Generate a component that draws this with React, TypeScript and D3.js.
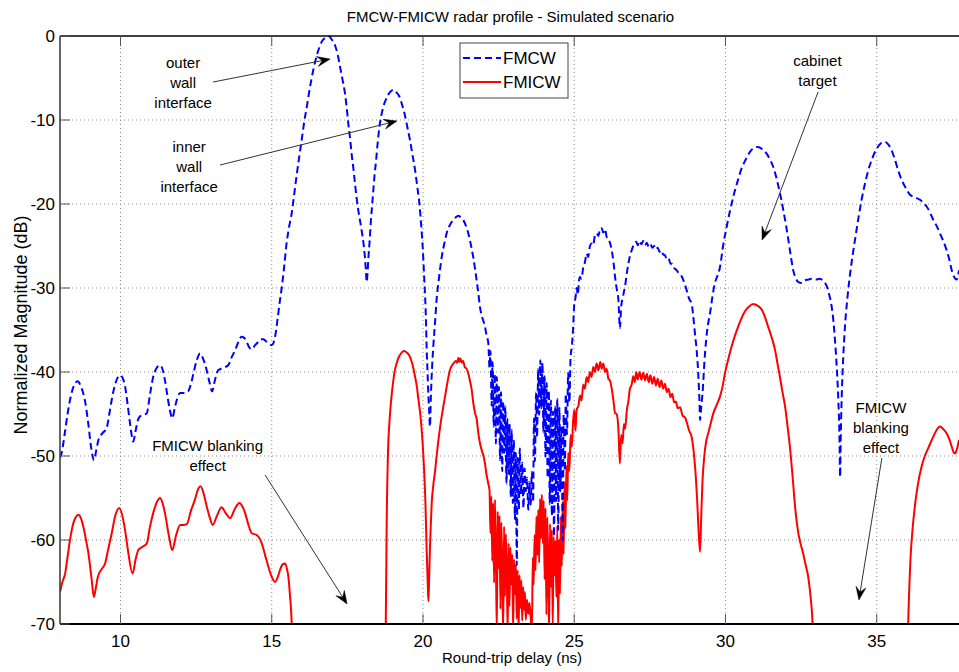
import React from 'react';
import * as d3 from 'd3';

const W = 959;
const H = 672;
const M = { left: 60, right: 959, top: 36, bottom: 624 };

const titleText = 'FMCW-FMICW radar profile - Simulated scenario';
const xLabel = 'Round-trip delay (ns)';
const yLabel = 'Normalized Magnitude (dB)';
const xDomain: [number, number] = [8, 37.72];
const yDomain: [number, number] = [-70, 0];
const xTicks = [10, 15, 20, 25, 30, 35];
const yTicks = [0, -10, -20, -30, -40, -50, -60, -70];
const seriesNames = ['FMCW', 'FMICW'];

// FMCW (blue dashed): [delay ns, magnitude dB]
const fmcw: [number, number][] = [
  [8.0, -50.2], [8.05, -49.7], [8.15, -47.5], [8.25, -45], [8.35, -43], [8.45, -41.7], [8.58, -41.1], [8.7, -41.8],
  [8.83, -43.5], [8.93, -46], [9.03, -49], [9.12, -50.5], [9.2, -49.3], [9.27, -48.1], [9.4, -47.3], [9.54, -46.7],
  [9.63, -45], [9.71, -43.3], [9.82, -41.5], [9.92, -40.6], [10.0, -40.4], [10.08, -40.8], [10.15, -41.7], [10.24, -44],
  [10.33, -46.5], [10.42, -48.3], [10.5, -47], [10.57, -45.8], [10.64, -45.3], [10.75, -45.1], [10.87, -44.9], [10.97, -42.8],
  [11.08, -40.6], [11.2, -39.5], [11.31, -39.2], [11.4, -39.8], [11.47, -41], [11.55, -42.8], [11.63, -44.5], [11.71, -45.5],
  [11.8, -44.2], [11.88, -43.1], [11.97, -42.5], [12.1, -42.5], [12.24, -42.3], [12.33, -41.4], [12.41, -40.2], [12.52, -38.6],
  [12.63, -37.8], [12.74, -38.5], [12.85, -39.8], [12.94, -41.2], [13.03, -42.3], [13.12, -41], [13.23, -39.8], [13.4, -39.5],
  [13.56, -39.2], [13.68, -38.2], [13.79, -37.4], [13.9, -36.4], [14.0, -35.8], [14.08, -35.9], [14.17, -36.4], [14.26, -37.1],
  [14.34, -37.3], [14.45, -36.8], [14.56, -36.4], [14.64, -36.1], [14.72, -36.1], [14.86, -36.5], [15.0, -36.8], [15.06, -36.5],
  [15.12, -35.6], [15.2, -33.5], [15.27, -31.5], [15.33, -30], [15.41, -27.5], [15.49, -24.7], [15.57, -22.8], [15.66, -21.1],
  [15.74, -18.9], [15.82, -16.7], [15.9, -14.6], [15.99, -12.4], [16.07, -10.3], [16.16, -8.4], [16.24, -6.6], [16.32, -5.0],
  [16.4, -3.6], [16.49, -2.3], [16.57, -1.4], [16.65, -0.7], [16.76, -0.2], [16.87, 0], [16.98, -0.4], [17.09, -1.1],
  [17.18, -2.2], [17.26, -3.7], [17.34, -5.2], [17.42, -6.8], [17.48, -8.6], [17.53, -10.4], [17.59, -12.2], [17.64, -14.0],
  [17.7, -15.8], [17.75, -17.5], [17.8, -19.1], [17.86, -20.7], [17.92, -22], [17.97, -23.1], [18.03, -24.6], [18.08, -26.3],
  [18.11, -27.8], [18.14, -29.3], [18.17, -28], [18.19, -26.7], [18.24, -24.2], [18.28, -21.9], [18.32, -20.1], [18.36, -18.3],
  [18.4, -16.5], [18.45, -14.8], [18.5, -12.8], [18.56, -10.8], [18.62, -9.5], [18.69, -8.4], [18.77, -7.6], [18.85, -7.0],
  [18.93, -6.6], [19.02, -6.4], [19.12, -6.7], [19.22, -7.2], [19.31, -8.2], [19.4, -9.4], [19.48, -10.8], [19.57, -12.4],
  [19.65, -14.1], [19.74, -16.0], [19.81, -17.9], [19.88, -19.9], [19.94, -22.5], [19.99, -25.1], [20.03, -28], [20.07, -31.0],
  [20.1, -34], [20.12, -37.0], [20.15, -40], [20.18, -42.9], [20.21, -45], [20.23, -46.5], [20.26, -43], [20.3, -39.5],
  [20.34, -37.0], [20.4, -34], [20.45, -31.4], [20.53, -28.8], [20.62, -26.3], [20.7, -24.8], [20.78, -23.5], [20.89, -22.5],
  [21.0, -21.9], [21.08, -21.6], [21.17, -21.4], [21.25, -21.6], [21.33, -21.9], [21.42, -22.6], [21.5, -23.5], [21.58, -24.8],
  [21.66, -26.3], [21.72, -27.7], [21.77, -29.0], [21.83, -30.6], [21.88, -32.2], [21.96, -33.5], [22.05, -34.6], [22.1, -35.6],
  [22.16, -36.6], [22.2, -39.5], [22.23, -37.5], [22.27, -44], [22.3, -38.8], [22.34, -46.5], [22.37, -40.2], [22.41, -48.5],
  [22.44, -40.6], [22.48, -47.2], [22.51, -41.8], [22.55, -50.5], [22.58, -42.4], [22.62, -51.8], [22.65, -43.5], [22.69, -49.6],
  [22.72, -44.1], [22.76, -53.3], [22.79, -45.6], [22.83, -52.1], [22.86, -46.2], [22.9, -54.8], [22.93, -46.9], [22.97, -55.6],
  [23.0, -48.1], [23.04, -57.5], [23.07, -49.6], [23.1, -63], [23.13, -50.2], [23.17, -56.4], [23.2, -49.1], [23.24, -54.6],
  [23.28, -50.8], [23.32, -56.2], [23.36, -51.5], [23.4, -54.2], [23.44, -52.6], [23.48, -56.4], [23.52, -53.1], [23.56, -55.8],
  [23.6, -51.9], [23.64, -55.5], [23.67, -45.5], [23.7, -50.6], [23.74, -42.4], [23.77, -47.8], [23.81, -39.6], [23.84, -45.1],
  [23.88, -38.6], [23.91, -44.3], [23.95, -38.9], [23.98, -47.2], [24.02, -40.5], [24.05, -50.1], [24.09, -41.3], [24.12, -52.6],
  [24.16, -42.2], [24.19, -55.7], [24.23, -43.4], [24.26, -57.1], [24.3, -44.7], [24.33, -59.6], [24.37, -44.1], [24.4, -55.4],
  [24.44, -43.2], [24.47, -58.8], [24.51, -44.3], [24.54, -54.2], [24.58, -46.5], [24.62, -60], [24.65, -45.1], [24.69, -51.8],
  [24.72, -42.6], [24.76, -47.4], [24.8, -40.1], [24.84, -43.6], [24.88, -38.2], [24.92, -37], [24.96, -35], [25.0, -32],
  [25.04, -31.2], [25.08, -30], [25.12, -30.8],
  [25.16, -29], [25.19, -28.7], [25.24, -28.9], [25.3, -27.5], [25.35, -27.0], [25.41, -25.9], [25.46, -26.3], [25.52, -25],
  [25.58, -24.7], [25.63, -24.9], [25.68, -23.8], [25.74, -23.5], [25.8, -23.8], [25.86, -22.9], [25.91, -22.9], [25.96, -23.4],
  [26.02, -23.0], [26.07, -23.9], [26.13, -24.2], [26.18, -24.6], [26.24, -25.5], [26.3, -27], [26.35, -28.7], [26.4, -30],
  [26.46, -31.4], [26.51, -34.8], [26.55, -32.3], [26.6, -31.2], [26.64, -30.5], [26.68, -29.8], [26.74, -28.2], [26.79, -27.1],
  [26.84, -26.2], [26.9, -25.5], [26.95, -25], [27.0, -24.7], [27.05, -24.5], [27.1, -24.9], [27.16, -24.4], [27.22, -24.8],
  [27.28, -24.4], [27.34, -24.9], [27.4, -24.6], [27.46, -25.1], [27.52, -24.8], [27.58, -25.2], [27.64, -25.0], [27.7, -25.4],
  [27.76, -25.2], [27.82, -25.7], [27.88, -25.5], [27.94, -26], [28.0, -26.1], [28.06, -26.6], [28.12, -26.5], [28.18, -27.1],
  [28.24, -27.1], [28.3, -27.6], [28.39, -27.9], [28.45, -28.2], [28.5, -28.3], [28.55, -28.6], [28.6, -29], [28.66, -29.6],
  [28.72, -30.3], [28.77, -31], [28.83, -31.5], [28.88, -31.8], [28.93, -33.2], [28.99, -35.4], [29.05, -37.5], [29.1, -40.2],
  [29.14, -43.5], [29.16, -45.7], [29.19, -44.5], [29.25, -42.1], [29.3, -39], [29.36, -36.2], [29.42, -34.4], [29.49, -33.0],
  [29.57, -31], [29.65, -29.4], [29.74, -28.5], [29.82, -27.5], [29.92, -25], [30.04, -22.7], [30.15, -20.8], [30.26, -19.1],
  [30.4, -17.3], [30.53, -15.8], [30.67, -14.7], [30.81, -13.8], [30.95, -13.3], [31.08, -13.2], [31.22, -13.5], [31.36, -14.0],
  [31.47, -14.7], [31.58, -15.6], [31.67, -16.7], [31.75, -17.9], [31.83, -19.2], [31.91, -20.7], [32.0, -22.5], [32.08, -24.3],
  [32.16, -26.2], [32.24, -27.9], [32.32, -28.8], [32.41, -29.3], [32.52, -29.4], [32.63, -29.1], [32.74, -29.0], [32.85, -28.9],
  [32.98, -29.0], [33.12, -28.9], [33.24, -29.2], [33.35, -29.8], [33.43, -30.8], [33.51, -32.2], [33.57, -34], [33.62, -36.2],
  [33.68, -39.5], [33.73, -43.3], [33.77, -48], [33.79, -52.5], [33.81, -48], [33.84, -43.3], [33.89, -38.5], [33.95, -34.6],
  [34.03, -31.2], [34.12, -28.3], [34.2, -26.2], [34.28, -24.3], [34.39, -21.8], [34.5, -19.5], [34.61, -17.6], [34.72, -16.0],
  [34.86, -14.5], [35.0, -13.4], [35.13, -12.8], [35.27, -12.6], [35.38, -12.9], [35.49, -13.6], [35.6, -14.7], [35.71, -16.0],
  [35.82, -17.1], [35.93, -17.9], [36.02, -18.5], [36.1, -18.9], [36.26, -19.2], [36.43, -19.5], [36.55, -19.9], [36.65, -20.3],
  [36.76, -21.0], [36.87, -21.9], [36.98, -22.6], [37.09, -23.5], [37.2, -24.4], [37.31, -25.5], [37.4, -26.6], [37.48, -27.9],
  [37.56, -28.7], [37.64, -29.0], [37.72, -27.9],
];

// FMICW (red solid): [delay ns, magnitude dB]; values below -70 fall outside the axes
const fmicw: [number, number][] = [
  [8.0, -66.2], [8.08, -65], [8.17, -64.0], [8.25, -62], [8.33, -60.0], [8.44, -58.0], [8.52, -57.3], [8.61, -57.0],
  [8.69, -57.4], [8.77, -58.4], [8.86, -60], [8.94, -61.6], [9.05, -64.8], [9.12, -66.8], [9.18, -65.8], [9.25, -64.4],
  [9.37, -63.5], [9.49, -62.8], [9.6, -61], [9.71, -59.2], [9.82, -57.2], [9.96, -56.2], [10.09, -57.6], [10.18, -59.5],
  [10.26, -61.6], [10.4, -64.0], [10.5, -62.3], [10.59, -61.2], [10.73, -60.8], [10.87, -60.4], [10.97, -58.5], [11.08, -56.8],
  [11.2, -55.5], [11.31, -55.0], [11.39, -55.6], [11.47, -56.8], [11.6, -59.5], [11.71, -61.2], [11.84, -59.4], [11.97, -58.2],
  [12.08, -58.2], [12.19, -58.1], [12.33, -56.5], [12.46, -55.2], [12.56, -54], [12.65, -53.6], [12.75, -54.5], [12.85, -56.0],
  [12.95, -57.3], [13.05, -58.2], [13.18, -57.2], [13.34, -56.1], [13.48, -56.8], [13.62, -57.4], [13.78, -56.3], [13.93, -55.6],
  [14.03, -56], [14.12, -56.8], [14.23, -58.2], [14.34, -59.2], [14.5, -59.4], [14.67, -60.4], [14.78, -61.8], [14.89, -63.2],
  [15.0, -64.4], [15.11, -65.0], [15.2, -64.4], [15.27, -63.6], [15.36, -62.9], [15.44, -62.8], [15.5, -63.4], [15.55, -64.4],
  [15.6, -66.5], [15.66, -70], [15.72, -80], [18.72, -80], [18.77, -70], [18.8, -58], [18.84, -50], [18.9, -45.5],
  [18.96, -42.9], [19.02, -41], [19.07, -39.8], [19.18, -38.4], [19.27, -37.8], [19.37, -37.5], [19.47, -37.7], [19.57, -38.2],
  [19.66, -39.2], [19.74, -40.6], [19.8, -41.8], [19.85, -43.3], [19.91, -45], [19.96, -47], [20.02, -50.5], [20.08, -55.5],
  [20.12, -61], [20.16, -65.5], [20.18, -67.3], [20.2, -65], [20.23, -61], [20.26, -58], [20.29, -55.5], [20.34, -53.5],
  [20.4, -51.8], [20.45, -50], [20.51, -48.1], [20.56, -46.7], [20.64, -44.8], [20.73, -42.9], [20.81, -41.2], [20.89, -39.8],
  [21.0, -39], [21.08, -38.7], [21.13, -38.9], [21.17, -38.3], [21.2, -38.8], [21.24, -38.4], [21.28, -38.9], [21.33, -38.7],
  [21.38, -39.4], [21.44, -39.6], [21.5, -40.2], [21.55, -41], [21.61, -42.1], [21.66, -43.6], [21.72, -44.9], [21.77, -45.5],
  [21.83, -47.3], [21.88, -48.4], [21.94, -49.3], [22.0, -50], [22.05, -50.9], [22.1, -52.2], [22.16, -53.3], [22.2, -54.1],
  [22.23, -59.2], [22.26, -54.8], [22.29, -62.5], [22.32, -55.6], [22.35, -65.1], [22.38, -55.2], [22.41, -61.4], [22.44, -71],
  [22.47, -56.6], [22.5, -63.4], [22.53, -57.1], [22.56, -68.2], [22.59, -57.9], [22.62, -64.3], [22.65, -71], [22.68, -58.4],
  [22.71, -66.7], [22.74, -59.3], [22.77, -63.8], [22.8, -71], [22.83, -60.4], [22.86, -67.9], [22.89, -60.9], [22.92, -65.3],
  [22.95, -61.7], [22.98, -71], [23.01, -62.3], [23.04, -66.5], [23.07, -62.9], [23.1, -69.4], [23.13, -63.6], [23.16, -71],
  [23.19, -64.2], [23.22, -68.1], [23.25, -64.8], [23.28, -69.6], [23.31, -65.6], [23.34, -68.3], [23.37, -66.2], [23.4, -69.5],
  [23.44, -67.1], [23.48, -68.8], [23.52, -67.5], [23.56, -69.2], [23.6, -71], [23.63, -62.1], [23.66, -65.3], [23.69, -59.4],
  [23.72, -63.6], [23.75, -57.2], [23.78, -61.8], [23.81, -56.4], [23.84, -62.7], [23.87, -55.1], [23.9, -59.8], [23.93, -54.6],
  [23.96, -60.4], [23.99, -55.3], [24.02, -64.7], [24.05, -56.2], [24.08, -68.9], [24.11, -57.3], [24.14, -63.5], [24.17, -71],
  [24.2, -58.1], [24.23, -65.6], [24.26, -58.8], [24.29, -70.5], [24.32, -59.6], [24.35, -64.2], [24.38, -60.1], [24.41, -66.8],
  [24.44, -58.3], [24.47, -71], [24.5, -59.9], [24.53, -66.4], [24.56, -57.2], [24.59, -63.1], [24.62, -55.4], [24.65, -61.7],
  [24.68, -53.1], [24.71, -58.6], [24.74, -51.2], [24.77, -55.3], [24.8, -49.6], [24.84, -51.8], [24.88, -47.5], [24.92, -48.9],
  [24.96, -46], [25.0, -44.5], [25.04, -47], [25.08, -44.5], [25.14, -44], [25.19, -42.8],
  [25.24, -43.4], [25.3, -41.5], [25.35, -42], [25.41, -40.6], [25.46, -41.2], [25.52, -40], [25.57, -40.6], [25.63, -39.4],
  [25.68, -40], [25.74, -39], [25.8, -39.8], [25.86, -38.8], [25.91, -39.6], [25.96, -39], [26.02, -40], [26.07, -39.6],
  [26.13, -40.8], [26.18, -41], [26.24, -42], [26.3, -43.5], [26.35, -44.9], [26.4, -45], [26.46, -46.8], [26.51, -50.9],
  [26.55, -47.5], [26.6, -48.5], [26.64, -46.2], [26.68, -46.8], [26.74, -44.5], [26.79, -43.5], [26.84, -42], [26.9, -41.5],
  [26.95, -40.5], [27.0, -41.2], [27.05, -40], [27.1, -40.9], [27.16, -40], [27.22, -40.9], [27.28, -40.1], [27.34, -41],
  [27.4, -40.2], [27.46, -41.2], [27.52, -40.4], [27.58, -41.4], [27.64, -40.6], [27.7, -41.6], [27.76, -40.8], [27.82, -41.8],
  [27.88, -41], [27.94, -42], [28.0, -41.4], [28.06, -42.4], [28.12, -42], [28.18, -43], [28.24, -42.6], [28.3, -43.6],
  [28.36, -43.5], [28.42, -44.3], [28.5, -44.2], [28.58, -45.2], [28.66, -45.4], [28.72, -46], [28.8, -47], [28.88, -47.7],
  [28.95, -49.5], [29.0, -51.5], [29.06, -55], [29.12, -59.5], [29.16, -61.4], [29.2, -57], [29.24, -53], [29.3, -50],
  [29.36, -48.3], [29.43, -47.3], [29.52, -46], [29.6, -44.9], [29.7, -44], [29.82, -42.9], [29.9, -41.8], [29.98, -40.2],
  [30.09, -38.5], [30.2, -37], [30.31, -35.7], [30.42, -34.6], [30.53, -33.6], [30.64, -32.8], [30.78, -32.2], [30.92, -31.9],
  [31.06, -32.1], [31.2, -32.6], [31.3, -33.4], [31.41, -34.6], [31.52, -35.8], [31.64, -37.4], [31.72, -39], [31.8, -40.6],
  [31.88, -42.3], [31.97, -44.1], [32.05, -46.4], [32.13, -48.9], [32.22, -52.5], [32.3, -56], [32.4, -59], [32.48, -60.4],
  [32.56, -61.5], [32.64, -62.8], [32.74, -64.5], [32.82, -67], [32.88, -70], [32.95, -80], [35.98, -80], [36.04, -70],
  [36.12, -62], [36.19, -58.5], [36.26, -56], [36.36, -53.4], [36.48, -51.3], [36.59, -50], [36.7, -49.1], [36.87, -47.7],
  [36.98, -46.9], [37.09, -46.5], [37.2, -46.8], [37.31, -47.3], [37.4, -48], [37.48, -48.9], [37.55, -49.6], [37.59, -49.7],
  [37.65, -49.2], [37.72, -48.1],
];

// Annotations: text lines, anchor (delay, dB) for text centre/first baseline, arrow tail and tip
const annLines = [
  ['outer', 'wall', 'interface'],
  ['inner', 'wall', 'interface'],
  ['cabinet', 'target'],
  ['FMICW blanking', 'effect'],
  ['FMICW', 'blanking', 'effect'],
];
const annAnchor: [number, number][] = [[12.07, -3.8], [12.27, -13.75], [33.04, -3.6], [12.88, -49.4], [35.14, -44.9]];
const annTail: [number, number][] = [[13.06, -5.48], [13.29, -15.36], [33.06, -6.67], [14.78, -52.26], [35.17, -50.24]];
const annTip: [number, number][] = [[16.93, -2.74], [19.14, -10.12], [31.21, -24.29], [17.49, -67.62], [34.41, -67.14]];

const FONT = 'Arial, "Liberation Sans", Helvetica, sans-serif';

function Arrow({ x1, y1, x2, y2 }: { x1: number; y1: number; x2: number; y2: number }) {
  const ang = Math.atan2(y2 - y1, x2 - x1);
  const L = 13, Wd = 5, N = 8;
  const c = Math.cos(ang), s = Math.sin(ang);
  const p = (dx: number, dy: number) => `${x2 + dx * c - dy * s},${y2 + dx * s + dy * c}`;
  const head = `M${p(0, 0)} L${p(-L, -Wd)} L${p(-N, 0)} L${p(-L, Wd)} Z`;
  return (
    <g>
      <line x1={x1} y1={y1} x2={x2 - N * c} y2={y2 - N * s} stroke="#333" strokeWidth={1} />
      <path d={head} fill="#000" stroke="#000" strokeWidth={0.5} />
    </g>
  );
}

export default function App() {
  const x = d3.scaleLinear().domain(xDomain).range([M.left, M.right]);
  const y = d3.scaleLinear().domain(yDomain).range([M.bottom, M.top]);
  const line = d3
    .line<[number, number]>()
    .x((d) => x(d[0]))
    .y((d) => y(d[1]))
    .curve(d3.curveMonotoneX);

  const gridColor = '#8c8c8c';
  const legX = 460, legY = 43, legW = 108, legH = 55;

  return (
    <svg width={W} height={H} style={{ position: 'absolute', left: 0, top: 0, background: '#fff' }} fontFamily={FONT}>
      <defs>
        <clipPath id="plot">
          <rect x={M.left} y={M.top} width={M.right - M.left} height={M.bottom - M.top} />
        </clipPath>
      </defs>
      <rect x={0} y={0} width={W} height={H} fill="#fff" />

      {/* grid */}
      {xTicks.map((t) => (
        <line key={'gx' + t} x1={x(t)} x2={x(t)} y1={M.top} y2={M.bottom} stroke={gridColor} strokeDasharray="1,3" strokeWidth={1} />
      ))}
      {yTicks.filter((t) => t !== 0 && t !== -70).map((t) => (
        <line key={'gy' + t} x1={M.left} x2={M.right} y1={y(t)} y2={y(t)} stroke={gridColor} strokeDasharray="1,3" strokeWidth={1} />
      ))}

      {/* series */}
      <g clipPath="url(#plot)">
        <path d={line(fmicw) || ''} fill="none" stroke="#ff0000" strokeWidth={2} strokeLinejoin="round" />
        <path d={line(fmcw) || ''} fill="none" stroke="#0000ff" strokeWidth={2} strokeDasharray="7,4" />
      </g>

      {/* axes */}
      <line x1={M.left} x2={M.right} y1={M.top} y2={M.top} stroke="#000" strokeWidth={1.5} />
      <line x1={M.left} x2={M.right} y1={M.bottom} y2={M.bottom} stroke="#000" strokeWidth={2} />
      <line x1={M.left} x2={M.left} y1={M.top} y2={M.bottom} stroke="#333" strokeWidth={1.5} />
      {xTicks.map((t) => (
        <g key={'tx' + t}>
          <line x1={x(t)} x2={x(t)} y1={M.bottom} y2={M.bottom - 10} stroke="#555" strokeWidth={1} />
          <line x1={x(t)} x2={x(t)} y1={M.top} y2={M.top + 10} stroke="#555" strokeWidth={1} />
          <text x={x(t)} y={647} fontSize={17} textAnchor="middle" fill="#000">{t}</text>
        </g>
      ))}
      {yTicks.map((t) => (
        <g key={'ty' + t}>
          <line x1={M.left} x2={M.left + 10} y1={y(t)} y2={y(t)} stroke="#555" strokeWidth={1} />
          <text x={55} y={y(t) + 6} fontSize={17} textAnchor="end" fill="#000">{t}</text>
        </g>
      ))}

      {/* labels */}
      <text x={(M.left + M.right) / 2 + 1} y={22} fontSize={15} textAnchor="middle" fill="#000">{titleText}</text>
      <text x={512} y={663} fontSize={15} textAnchor="middle" fill="#000">{xLabel}</text>
      <text transform="translate(27,325) rotate(-90)" fontSize={18} textAnchor="middle" fill="#000">{yLabel}</text>

      {/* annotations */}
      {annLines.map((lines, i) => {
        const ax = x(annAnchor[i][0]);
        const ay = y(annAnchor[i][1]);
        return (
          <g key={'ann' + i}>
            {lines.map((s, j) => (
              <text key={j} x={ax} y={ay + j * 20} fontSize={15} textAnchor="middle" fill="#000">{s}</text>
            ))}
            <Arrow x1={x(annTail[i][0])} y1={y(annTail[i][1])} x2={x(annTip[i][0])} y2={y(annTip[i][1])} />
          </g>
        );
      })}

      {/* legend */}
      <rect x={legX} y={legY} width={legW} height={legH} fill="#fff" stroke="#444" strokeWidth={1} />
      <line x1={legX + 3} x2={legX + 41} y1={58} y2={58} stroke="#0000ff" strokeWidth={2} strokeDasharray="7,4" />
      <line x1={legX + 3} x2={legX + 41} y1={82} y2={82} stroke="#ff0000" strokeWidth={2} />
      <text x={legX + 43} y={64} fontSize={17} fill="#000">{seriesNames[0]}</text>
      <text x={legX + 43} y={88} fontSize={17} fill="#000">{seriesNames[1]}</text>
    </svg>
  );
}
